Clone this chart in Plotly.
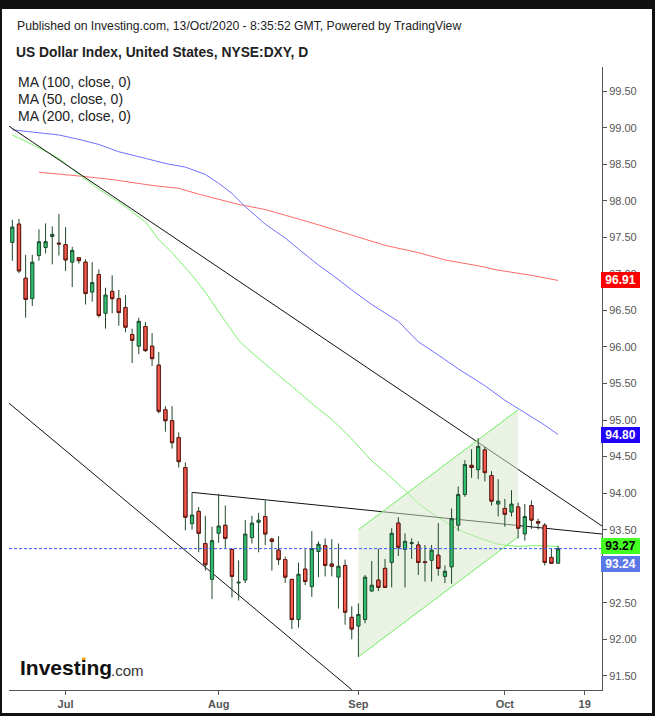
import pandas as pd
import plotly.graph_objects as go

# ---- Daily US Dollar Index candles (business days from 19 Jun 2020 to 13 Oct 2020)
opens = [97.43, 97.68, 96.94, 96.66, 97.25, 97.36, 97.51, 97.42, 97.40, 97.16,
         97.22, 97.16, 96.75, 96.99, 96.46, 96.76, 96.66, 96.54, 96.17, 96.01,
         96.28, 96.01, 95.75, 95.14, 94.99, 94.76, 94.35, 93.58, 93.75, 93.31,
         92.82, 93.45, 93.56, 93.23, 92.77, 92.81, 93.39, 93.60, 93.68, 93.37,
         93.22, 93.09, 92.82, 92.27, 92.96, 92.72, 93.20, 93.28, 93.03, 92.85,
         93.01, 92.30, 92.18, 92.27, 92.66, 92.81, 92.97, 93.05, 93.59, 93.23,
         93.31, 93.29, 93.06, 93.08, 93.15, 92.86, 92.99, 93.56, 93.98, 94.38,
         94.32, 94.59, 94.24, 93.85, 93.79, 93.74, 93.81, 93.44, 93.83, 93.61,
         93.56, 93.12, 93.04]
highs = [97.74, 97.75, 97.26, 97.26, 97.61, 97.69, 97.65, 97.82, 97.64, 97.37,
         97.23, 97.20, 97.16, 97.06, 96.81, 96.98, 96.78, 96.71, 96.25, 96.40,
         96.34, 96.19, 95.93, 95.19, 95.19, 94.83, 94.42, 94.01, 93.81, 93.69,
         93.54, 93.99, 93.83, 93.24, 93.08, 93.63, 93.69, 93.73, 93.90, 93.39,
         93.41, 93.13, 92.82, 93.05, 93.23, 93.48, 93.34, 93.38, 93.37, 93.31,
         93.09, 92.45, 92.49, 92.88, 93.07, 93.24, 93.10, 93.52, 93.67, 93.45,
         93.38, 93.34, 93.29, 93.29, 93.59, 93.01, 93.79, 94.09, 94.45, 94.60,
         94.75, 94.63, 94.30, 94.19, 93.92, 94.04, 93.87, 93.85, 93.90, 93.65,
         93.59, 93.24, 93.28]
lows = [97.18, 97.01, 96.40, 96.56, 97.18, 97.28, 97.13, 97.25, 97.04, 96.82,
        97.14, 96.58, 96.62, 96.40, 96.25, 96.46, 96.29, 96.20, 95.78, 95.90,
        95.93, 95.74, 95.09, 94.84, 94.61, 94.35, 93.49, 93.50, 93.19, 92.94,
        92.55, 93.32, 93.25, 92.57, 92.53, 92.77, 93.31, 93.19, 93.29, 92.94,
        93.02, 92.77, 92.14, 92.16, 92.74, 92.58, 92.85, 92.86, 92.86, 92.42,
        92.20, 92.00, 91.76, 92.22, 92.65, 92.66, 92.70, 92.71, 93.14, 92.71,
        93.10, 92.88, 92.79, 92.79, 92.87, 92.77, 92.76, 93.48, 93.95, 94.21,
        94.19, 94.16, 93.83, 93.68, 93.54, 93.68, 93.38, 93.35, 93.51, 93.50,
        93.01, 93.03, 93.04]
closes = [97.64, 97.04, 96.65, 97.16, 97.44, 97.44, 97.54, 97.41, 97.19, 97.32,
          97.18, 96.73, 96.88, 96.43, 96.71, 96.66, 96.47, 96.27, 96.09, 96.35,
          95.95, 95.84, 95.12, 94.99, 94.69, 94.43, 93.67, 93.70, 93.45, 93.02,
          93.35, 93.55, 93.38, 92.86, 92.78, 93.44, 93.59, 93.63, 93.44, 93.34,
          93.09, 92.85, 92.27, 92.89, 92.79, 93.24, 93.30, 93.01, 93.00, 93.00,
          92.37, 92.14, 92.34, 92.85, 92.74, 92.71, 92.71, 93.45, 93.26, 93.34,
          93.32, 93.05, 93.05, 93.22, 92.97, 92.93, 93.65, 93.98, 94.39, 94.35,
          94.64, 94.28, 93.89, 93.89, 93.71, 93.85, 93.52, 93.68, 93.63, 93.59,
          93.05, 93.04, 93.24]

# ---- Moving averages (bar index, value)
ma100_idx = [0, 3, 7, 10, 13, 16, 20, 23, 26, 29, 31, 33, 35, 38, 41, 43, 46, 48,
             51, 54, 58, 61, 64, 67, 71, 74, 77, 80, 82]
ma100_val = [98.97, 98.94, 98.90, 98.84, 98.77, 98.67, 98.58, 98.51, 98.46, 98.36,
             98.24, 98.10, 97.92, 97.68, 97.49, 97.34, 97.12, 96.99, 96.78, 96.58,
             96.35, 96.07, 95.89, 95.70, 95.47, 95.27, 95.10, 94.93, 94.80]
ma50_idx = [0, 3, 7, 10, 13, 17, 20, 22, 24, 27, 29, 31, 34, 36, 39, 42, 46, 48,
            51, 54, 56, 59, 61, 63, 66, 68, 71, 73, 76, 78, 80, 82]
ma50_val = [98.90, 98.77, 98.58, 98.36, 98.16, 97.92, 97.71, 97.47, 97.29, 96.98,
            96.75, 96.48, 96.09, 95.92, 95.69, 95.46, 95.15, 95.01, 94.74, 94.44,
            94.29, 94.04, 93.86, 93.73, 93.55, 93.46, 93.36, 93.30, 93.27, 93.28,
            93.28, 93.27]
ma200_idx = [4, 11, 15, 21, 25, 28, 34, 38, 43, 46, 51, 56, 61, 65, 70, 73, 78, 82]
ma200_val = [98.39, 98.33, 98.29, 98.21, 98.17, 98.09, 97.95, 97.88, 97.75, 97.67,
             97.53, 97.39, 97.29, 97.19, 97.11, 97.05, 96.98, 96.91]

# ---- Drawn trendlines and rising channel (bar index, price)
upper_trend_x = [-0.5, 88.6]
upper_trend_y = [99.02, 93.55]
lower_trend_x = [-0.5, 51.0]
lower_trend_y = [95.23, 91.31]
neck_x = [27, 88.6]
neck_y = [94.01, 93.44]
channel_top_x = [52, 76]
channel_top_y = [93.50, 95.14]
channel_bot_x = [52, 76]
channel_bot_y = [91.76, 93.40]

# ---- Axis ticks
tick_labels = ["Jul", "Aug", "Sep", "Oct", "19"]
tick_dates = ["2020-07-01", "2020-08-03", "2020-09-01", "2020-10-01", "2020-10-19"]
y_ticks = [91.5 + 0.5 * k for k in range(17)]

first_day = "2020-06-19"
calendar = pd.bdate_range(first_day, "2020-10-30")
bars = list(range(len(opens)))
tick_pos = [calendar.get_loc(pd.Timestamp(d)) for d in tick_dates]

# ---- Page geometry
W, H = 655, 716
L, R, T, B = 9, 53, 67, 26
PW, PH = W - L - R, H - T - B
X_RANGE = [-0.5, 88.6]
Y_RANGE = [91.306, 99.83]


def px_x(px):
    return (px - L) / PW


def px_y(py):
    return (T + PH - py) / PH


def data_path(xs, ys, close=False):
    pts = " L ".join("%s,%s" % (x, y) for x, y in zip(xs, ys))
    return "M " + pts + (" Z" if close else "")


FONT = "Liberation Sans, Arial, sans-serif"
GREEN_FILL = "#2fbd6f"
RED_FILL = "#f25c4e"
WICK = "#1e4a2b"
RED_EDGE = "#6a1512"

shapes = []


def line_shape(xs, ys, color):
    shapes.append(dict(type="path", xref="x", yref="y", layer="below",
                       path=data_path(xs, ys), line=dict(color=color, width=1)))


# moving averages and trendlines sit underneath everything else
line_shape(ma200_idx, ma200_val, "#ff6b6b")
line_shape(ma100_idx, ma100_val, "#7070ff")
line_shape(ma50_idx, ma50_val, "#78f56a")
line_shape(upper_trend_x, upper_trend_y, "#111111")
line_shape(lower_trend_x, lower_trend_y, "#111111")
line_shape(neck_x, neck_y, "#111111")

# semi-transparent channel shading over the lines, then its two edges
poly_x = channel_top_x + channel_bot_x[::-1]
poly_y = channel_top_y + channel_bot_y[::-1]
shapes.append(dict(type="path", xref="x", yref="y", layer="below",
                   path=data_path(poly_x, poly_y, close=True),
                   fillcolor="rgba(212,230,200,0.5)", line=dict(width=0)))
line_shape(channel_top_x, channel_top_y, "#6cf25a")
line_shape(channel_bot_x, channel_bot_y, "#6cf25a")

fig = go.Figure()

# candles: wicks and outlines
fig.add_trace(go.Candlestick(
    x=bars, open=opens, high=highs, low=lows, close=closes,
    increasing=dict(line=dict(color=WICK, width=1), fillcolor=GREEN_FILL),
    decreasing=dict(line=dict(color=WICK, width=1), fillcolor=RED_FILL),
    hoverinfo="skip"))

# red bodies get a dark red outline
down = [i for i in bars if closes[i] < opens[i]]
fig.add_trace(go.Candlestick(
    x=down, open=[opens[i] for i in down], close=[closes[i] for i in down],
    high=[opens[i] for i in down], low=[closes[i] for i in down],
    increasing=dict(line=dict(color=RED_EDGE, width=1), fillcolor=RED_FILL),
    decreasing=dict(line=dict(color=RED_EDGE, width=1), fillcolor=RED_FILL),
    hoverinfo="skip"))

# last price dashed line
fig.add_trace(go.Scatter(x=X_RANGE, y=[closes[-1], closes[-1]], mode="lines",
                         line=dict(color="#3355ff", width=1, dash="3px,2px"),
                         hoverinfo="skip"))

annotations = []


def text_at(px, py, text, size, color="#222222", anchor="left"):
    annotations.append(dict(xref="paper", yref="paper", x=px_x(px), y=px_y(py),
                            xanchor=anchor, yanchor="middle", showarrow=False,
                            text=text, font=dict(family=FONT, size=size, color=color)))


text_at(15, 26, "Published on Investing.com, 13/Oct/2020 - 8:35:52 GMT, Powered by TradingView", 12.2)
text_at(14, 52, "<b>US Dollar Index, United States, NYSE:DXY, D</b>", 13.8)
text_at(16, 82, "MA (100, close, 0)", 14)
text_at(16, 99, "MA (50, close, 0)", 14)
text_at(16, 116, "MA (200, close, 0)", 14)
text_at(18, 667, "<b>Investing</b>", 21, color="#111111")
text_at(109, 670, ".com", 15, color="#333333")


def price_tag(value, bg, fg, yshift=0):
    annotations.append(dict(xref="paper", yref="y", x=1, y=value, xanchor="left",
                            yanchor="middle", xshift=-1, yshift=yshift, showarrow=False,
                            text="<b>%.2f</b>" % value, bgcolor=bg, width=39, height=16,
                            borderpad=0, borderwidth=0,
                            font=dict(family=FONT, size=12, color=fg)))


price_tag(ma200_val[-1], "#ff0000", "#ffffff")
price_tag(ma100_val[-1], "#2200ff", "#ffffff")
price_tag(ma50_val[-1], "#44ff22", "#000000")
price_tag(closes[-1], "#5b78e8", "#ffffff", yshift=-15)

# orange dot of the logo's "i"
shapes.append(dict(type="rect", xref="paper", yref="paper", layer="above",
                   x0=px_x(82), x1=px_x(85.5), y0=px_y(661), y1=px_y(657.5),
                   fillcolor="#f7a21b", line=dict(width=0)))

# black frame around the page
frame = [(0, 0, W, 9), (0, 0, 2, H), (652, 0, W, H), (0, 713, W, H)]
for a, b, c, d in frame:
    shapes.append(dict(type="rect", xref="paper", yref="paper", layer="above",
                       x0=px_x(a), x1=px_x(c), y0=px_y(d), y1=px_y(b),
                       fillcolor="#111111", line=dict(width=0)))

# the 93.00 label sits behind the price tags, so only its tick mark is kept
y_ticktext = ["" if abs(v - 93.0) < 1e-9 else "%.2f" % v for v in y_ticks]

fig.update_layout(
    width=W, height=H,
    margin=dict(l=L, r=R, t=T, b=B, pad=0),
    paper_bgcolor="white", plot_bgcolor="white",
    showlegend=False,
    font=dict(family=FONT),
    annotations=annotations,
    shapes=shapes,
    xaxis=dict(range=X_RANGE, rangeslider=dict(visible=False), showgrid=False,
               zeroline=False, showline=True, linecolor="#555555", linewidth=1,
               ticks="outside", ticklen=4, tickcolor="#555555",
               tickvals=tick_pos, ticktext=["<b>%s</b>" % t for t in tick_labels],
               tickfont=dict(family=FONT, size=11, color="#555555"),
               automargin=False, fixedrange=True),
    yaxis=dict(range=Y_RANGE, side="right", showgrid=False, zeroline=False,
               showline=True, linecolor="#555555", linewidth=1,
               ticks="outside", ticklen=4, tickcolor="#555555",
               tickvals=y_ticks, ticktext=y_ticktext,
               tickfont=dict(family=FONT, size=11, color="#555555"),
               automargin=False, fixedrange=True),
)

fig.write_html("out.html")
